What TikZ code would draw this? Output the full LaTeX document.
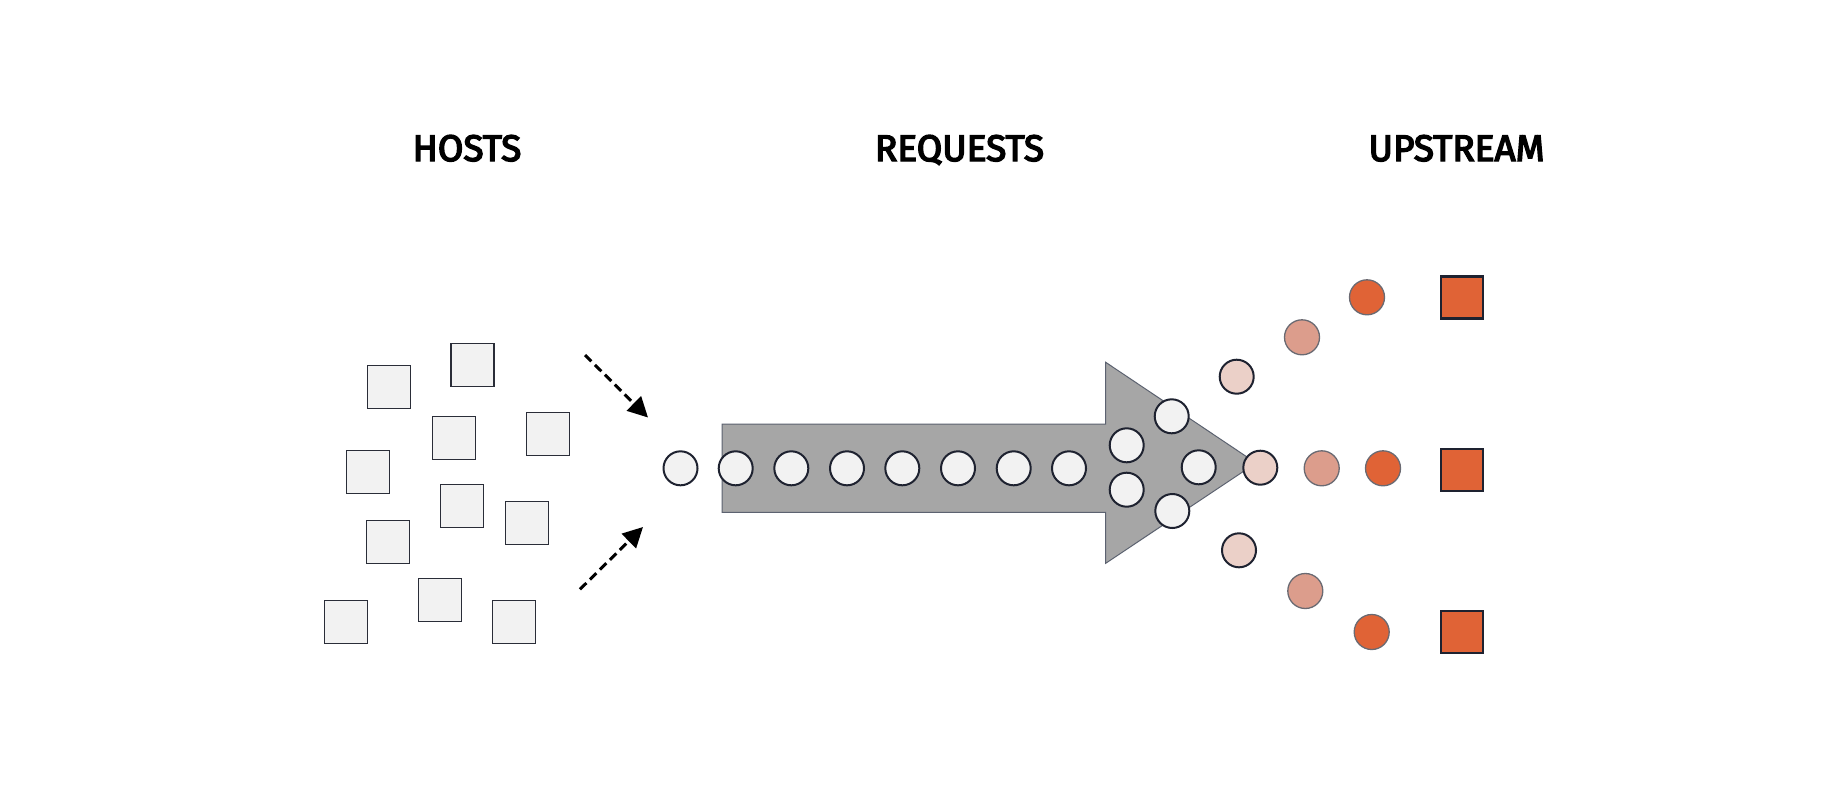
\documentclass[tikz,border=0pt]{standalone}
\usepackage{fontspec}
\setmainfont{Fira Sans}
\newfontfamily\titlefont{Fira Sans}[FakeBold=4]
\usetikzlibrary{arrows.meta}
\definecolor{hostfill}{HTML}{F2F2F2}
\definecolor{hostline}{HTML}{2A2D38}
\definecolor{ringline}{HTML}{1E2230}
\definecolor{bigarrow}{HTML}{A6A6A6}
\definecolor{bigarrowline}{HTML}{5C6270}
\definecolor{pinklight}{HTML}{EBD0C8}
\definecolor{pinkmid}{HTML}{DC9D8C}
\definecolor{orangeup}{HTML}{E06336}
\definecolor{softline}{HTML}{6A6A72}
\begin{document}
\begin{tikzpicture}[x=1pt,y=-1pt,
  title/.style={font=\titlefont\fontsize{37}{40}\selectfont, anchor=base, inner sep=0},
  host/.style={rectangle, draw=hostline, fill=hostfill, line width=1.3pt, minimum size=43pt, inner sep=0},
  req/.style={circle, draw=ringline, fill=hostfill, line width=2pt, minimum size=34pt, inner sep=0},
  uplight/.style={circle, draw=ringline, fill=pinklight, line width=2pt, minimum size=34pt, inner sep=0},
  upmid/.style={circle, draw=softline, fill=pinkmid, line width=1.3pt, minimum size=35pt, inner sep=0},
  upstrong/.style={circle, draw=softline, fill=orangeup, line width=1.3pt, minimum size=35pt, inner sep=0},
  upbox/.style={rectangle, draw=ringline, fill=orangeup, line width=2.2pt, minimum size=42pt, inner sep=0},
  dasharrow/.style={draw=black, line width=3pt, dash pattern=on 9pt off 5pt, -{Triangle[length=20pt,width=20pt]}}
]
\useasboundingbox[fill=white] (0,0) rectangle (1844,806);

% titles
\node[title] (thosts) at (467,161) {HOSTS};
\node[title] (treq) at (959.5,161) {REQUESTS};
\node[title] (tup) at (1456.5,161) {UPSTREAM};

% hosts
\node[host] (h1) at (388.7,387) {};
\node[host] (h2) at (472.5,365.3) {};
\node[host] (h3) at (454.3,438.2) {};
\node[host] (h4) at (548.3,434.3) {};
\node[host] (h5) at (368.3,471.8) {};
\node[host] (h6) at (461.7,506.3) {};
\node[host] (h7) at (526.8,523.3) {};
\node[host] (h8) at (388.3,542.3) {};
\node[host] (h9) at (439.7,600.3) {};
\node[host] (h10) at (346.3,622) {};
\node[host] (h11) at (514.3,622) {};

% dashed arrows
\coordinate (a1s) at (585,355);
\coordinate (a1e) at (648,417.5);
\coordinate (a2s) at (580,589.3);
\coordinate (a2e) at (643,527);
\draw[dasharrow] (a1s) -- (a1e);
\draw[dasharrow] (a2s) -- (a2e);

% big arrow
\draw[fill=bigarrow, draw=bigarrowline, line width=1pt, line join=miter]
  (722,424) -- (1105.7,424) -- (1105.7,362.3) -- (1256,463) -- (1105.7,563.3)
  -- (1105.7,512.3) -- (722,512.3) -- cycle;

% requests
\node[req] (r0) at (680.5,468.3) {};
\node[req] (r1) at (735.7,468.3) {};
\node[req] (r2) at (791.3,468.3) {};
\node[req] (r3) at (847,468.3) {};
\node[req] (r4) at (902.3,468.3) {};
\node[req] (r5) at (958,468.3) {};
\node[req] (r6) at (1013.7,468.3) {};
\node[req] (r7) at (1069,468.3) {};
\node[req] (r8) at (1126.7,445.3) {};
\node[req] (r9) at (1126.7,489.7) {};
\node[req] (r10) at (1171.7,416.3) {};
\node[req] (r11) at (1172.3,511) {};
\node[req] (r12) at (1198.7,467.3) {};

% upstream, middle
\node[uplight] (m1) at (1260.3,467.7) {};
\node[upmid] (m2) at (1321.7,468.3) {};
\node[upstrong] (m3) at (1383,468.3) {};
\node[upbox] (m4) at (1462,469.8) {};
% upstream, upper
\node[uplight] (u1) at (1236.7,376.7) {};
\node[upmid] (u2) at (1302,337.3) {};
\node[upstrong] (u3) at (1367,297.3) {};
\node[upbox] (u4) at (1462,297.5) {};
% upstream, lower
\node[uplight] (l1) at (1239,550.3) {};
\node[upmid] (l2) at (1305.3,591) {};
\node[upstrong] (l3) at (1371.7,632) {};
\node[upbox] (l4) at (1462,632) {};
\end{tikzpicture}
\end{document}
